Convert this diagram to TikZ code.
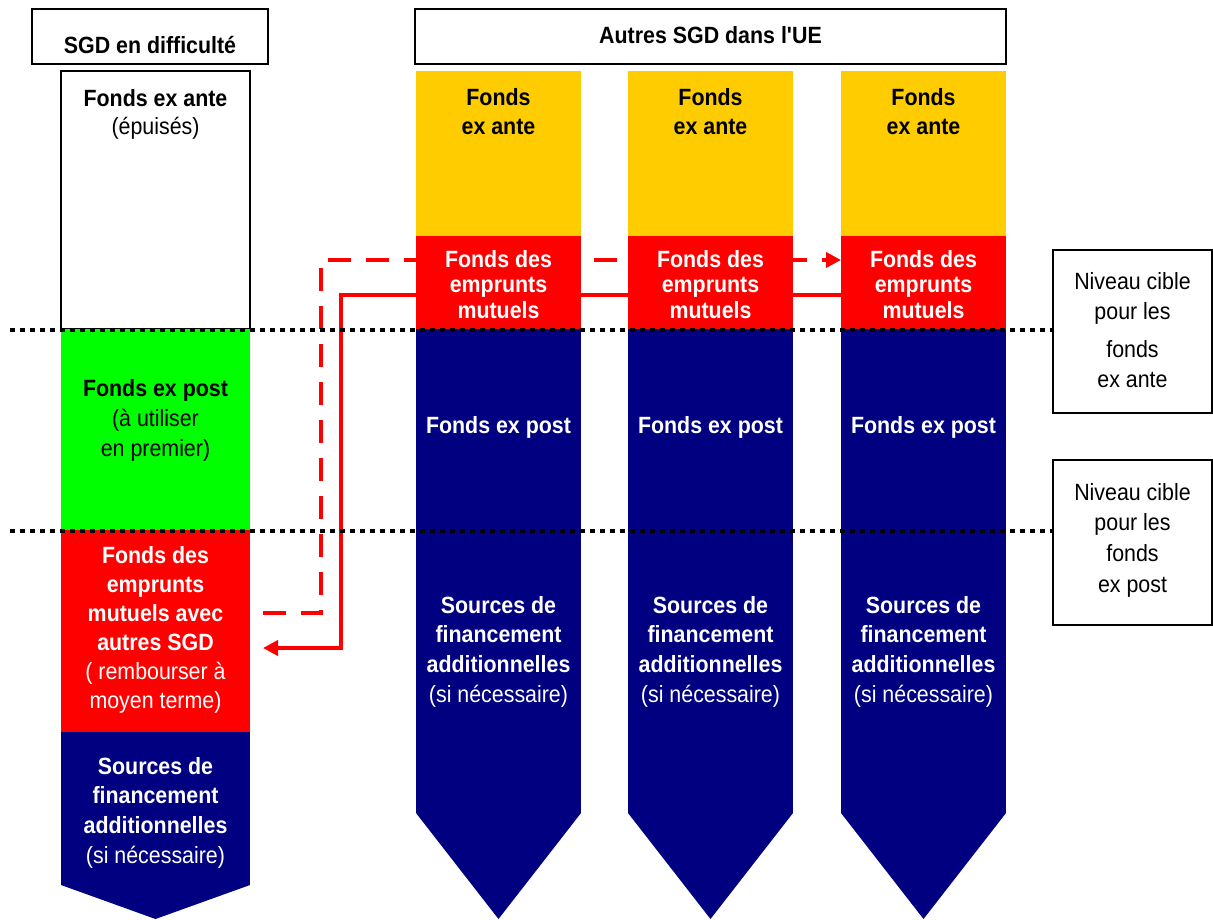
\documentclass[tikz,border=0pt]{standalone}
\usepackage{fontspec}
\setmainfont{Liberation Sans}[FakeStretch=0.91]
\newfontfamily\plainsans{Liberation Sans}[FakeStretch=0.91]
\usetikzlibrary{arrows.meta,calc,backgrounds}
\definecolor{navyc}{HTML}{000080}
\definecolor{goldc}{HTML}{FFCC00}
\definecolor{redc}{HTML}{FF0000}
\definecolor{greenc}{HTML}{00FF00}
\newcommand{\fstrut}{\rule{0pt}{19pt}}
\begin{document}
\begin{tikzpicture}[x=1pt,y=-1pt,
  seg/.style={anchor=north west, inner sep=0pt, outer sep=0pt},
  framed/.style={seg, draw=black, line width=2pt, fill=white},
  txt/.style={align=center, anchor=north, inner sep=0pt, outer sep=0pt, font=\fontsize{23.5}{30}\selectfont},
  dots/.style={line width=4pt, dash pattern=on 5pt off 5pt},
  flow/.style={draw=redc, line width=4.5pt, -{Triangle[length=15pt,width=15pt]}},
  flowdash/.style={flow, dash pattern=on 23pt off 15pt},
]
\useasboundingbox (0,0) rectangle (1213,919);

% headers
\node[framed, minimum width=236pt, minimum height=55pt] (h1) at (32,9) {};
\node[txt] (h1t) at (150,34) {\fstrut\textbf{SGD en difficulté}};
\node[framed, minimum width=591pt, minimum height=55pt] (h2) at (415,9) {};
\node[txt] (h2t) at (710.5,24) {\fstrut\textbf{Autres SGD dans l{\plainsans '}UE}};

% left column
\node[framed, minimum width=189pt, minimum height=258pt] (lante) at (61,71) {};
\node[seg, fill=greenc, minimum width=189pt, minimum height=201pt] (lpost) at (61,329) {};
\node[seg, fill=redc, minimum width=189pt, minimum height=203pt] (lmut) at (61,530) {};
\node[seg, fill=navyc, minimum width=189pt, minimum height=153pt] (lsrc) at (61,732) {};
\fill[navyc] (lsrc.south west) -- (lsrc.south east) -- ($(lsrc.south)+(0,34)$) -- cycle;

\node[txt, font=\fontsize{23.5}{28}\selectfont] (lantet) at (155.5,87)
  {\fstrut\textbf{Fonds ex ante}\\(épuisés)};
\node[txt] (lpostt) at (155.5,377)
  {\fstrut\textbf{Fonds ex post}\\(à utiliser\\en premier)};
\node[txt, text=white, font=\fontsize{23.5}{29}\selectfont] (lmutt) at (155.5,544)
  {\fstrut\textbf{Fonds des}\\\textbf{emprunts}\\\textbf{mutuels avec}\\\textbf{autres SGD}\\( rembourser à\\moyen terme)};
\node[txt, text=white, font=\fontsize{23.5}{29.7}\selectfont] (lsrct) at (155.5,755)
  {\fstrut\textbf{Sources de}\\\textbf{financement}\\\textbf{additionnelles}\\(si nécessaire)};

% other columns
\foreach \i/\x in {1/416,2/628,3/841}{
  \node[seg, fill=goldc, minimum width=165pt, minimum height=165pt] (ante\i) at (\x,71) {};
  \node[seg, fill=redc, minimum width=165pt, minimum height=93pt] (mut\i) at (\x,236) {};
  \node[seg, fill=navyc, minimum width=165pt, minimum height=484pt] (post\i) at (\x,329) {};
  \fill[navyc] (post\i.south west) -- (post\i.south east) -- ($(post\i.south)+(0,106)$) -- cycle;
  \node[txt, font=\fontsize{23.5}{29}\selectfont] (antet\i) at ({\x+82.5},86)
    {\fstrut\textbf{Fonds}\\\textbf{ex ante}};
  \node[txt, text=white, font=\fontsize{23.5}{25.5}\selectfont] (mutt\i) at ({\x+82.5},248)
    {\fstrut\textbf{Fonds des}\\\textbf{emprunts}\\\textbf{mutuels}};
  \node[txt, text=white] (postt\i) at ({\x+82.5},414)
    {\fstrut\textbf{Fonds ex post}};
  \node[txt, text=white, font=\fontsize{23.5}{29.7}\selectfont] (srct\i) at ({\x+82.5},594)
    {\fstrut\textbf{Sources de}\\\textbf{financement}\\\textbf{additionnelles}\\(si nécessaire)};
}

% target level boxes
\node[framed, minimum width=159pt, minimum height=163pt] (nb1) at (1053,250) {};
\node[txt] (nb1t) at (1132.5,270)
  {\fstrut Niveau cible\\pour les\\[8pt]fonds\\ex ante};
\node[framed, minimum width=159pt, minimum height=165pt] (nb2) at (1053,460) {};
\node[txt, font=\fontsize{23.5}{30.7}\selectfont] (nb2t) at (1132.5,481)
  {\fstrut Niveau cible\\pour les\\fonds\\ex post};

% dotted target lines
\coordinate (d1) at (10,330);
\coordinate (d2) at (10,531);
\draw[dots] (d1) -- (d1 -| nb1.west);
\draw[dots] (d2) -- (d2 -| nb2.west);

% flows (behind the columns)
\coordinate (dA) at (263,613);
\coordinate (dB) at (321,260);
\coordinate (sA) at (263,648);
\coordinate (sB) at (341,295);
\begin{pgfonlayer}{background}
  \draw[flowdash] (dA) -| (dB) -- (dB -| mut3.west);
  \draw[flow] (sB -| mut3.west) -- (sB) |- (sA);
\end{pgfonlayer}
\end{tikzpicture}
\end{document}
